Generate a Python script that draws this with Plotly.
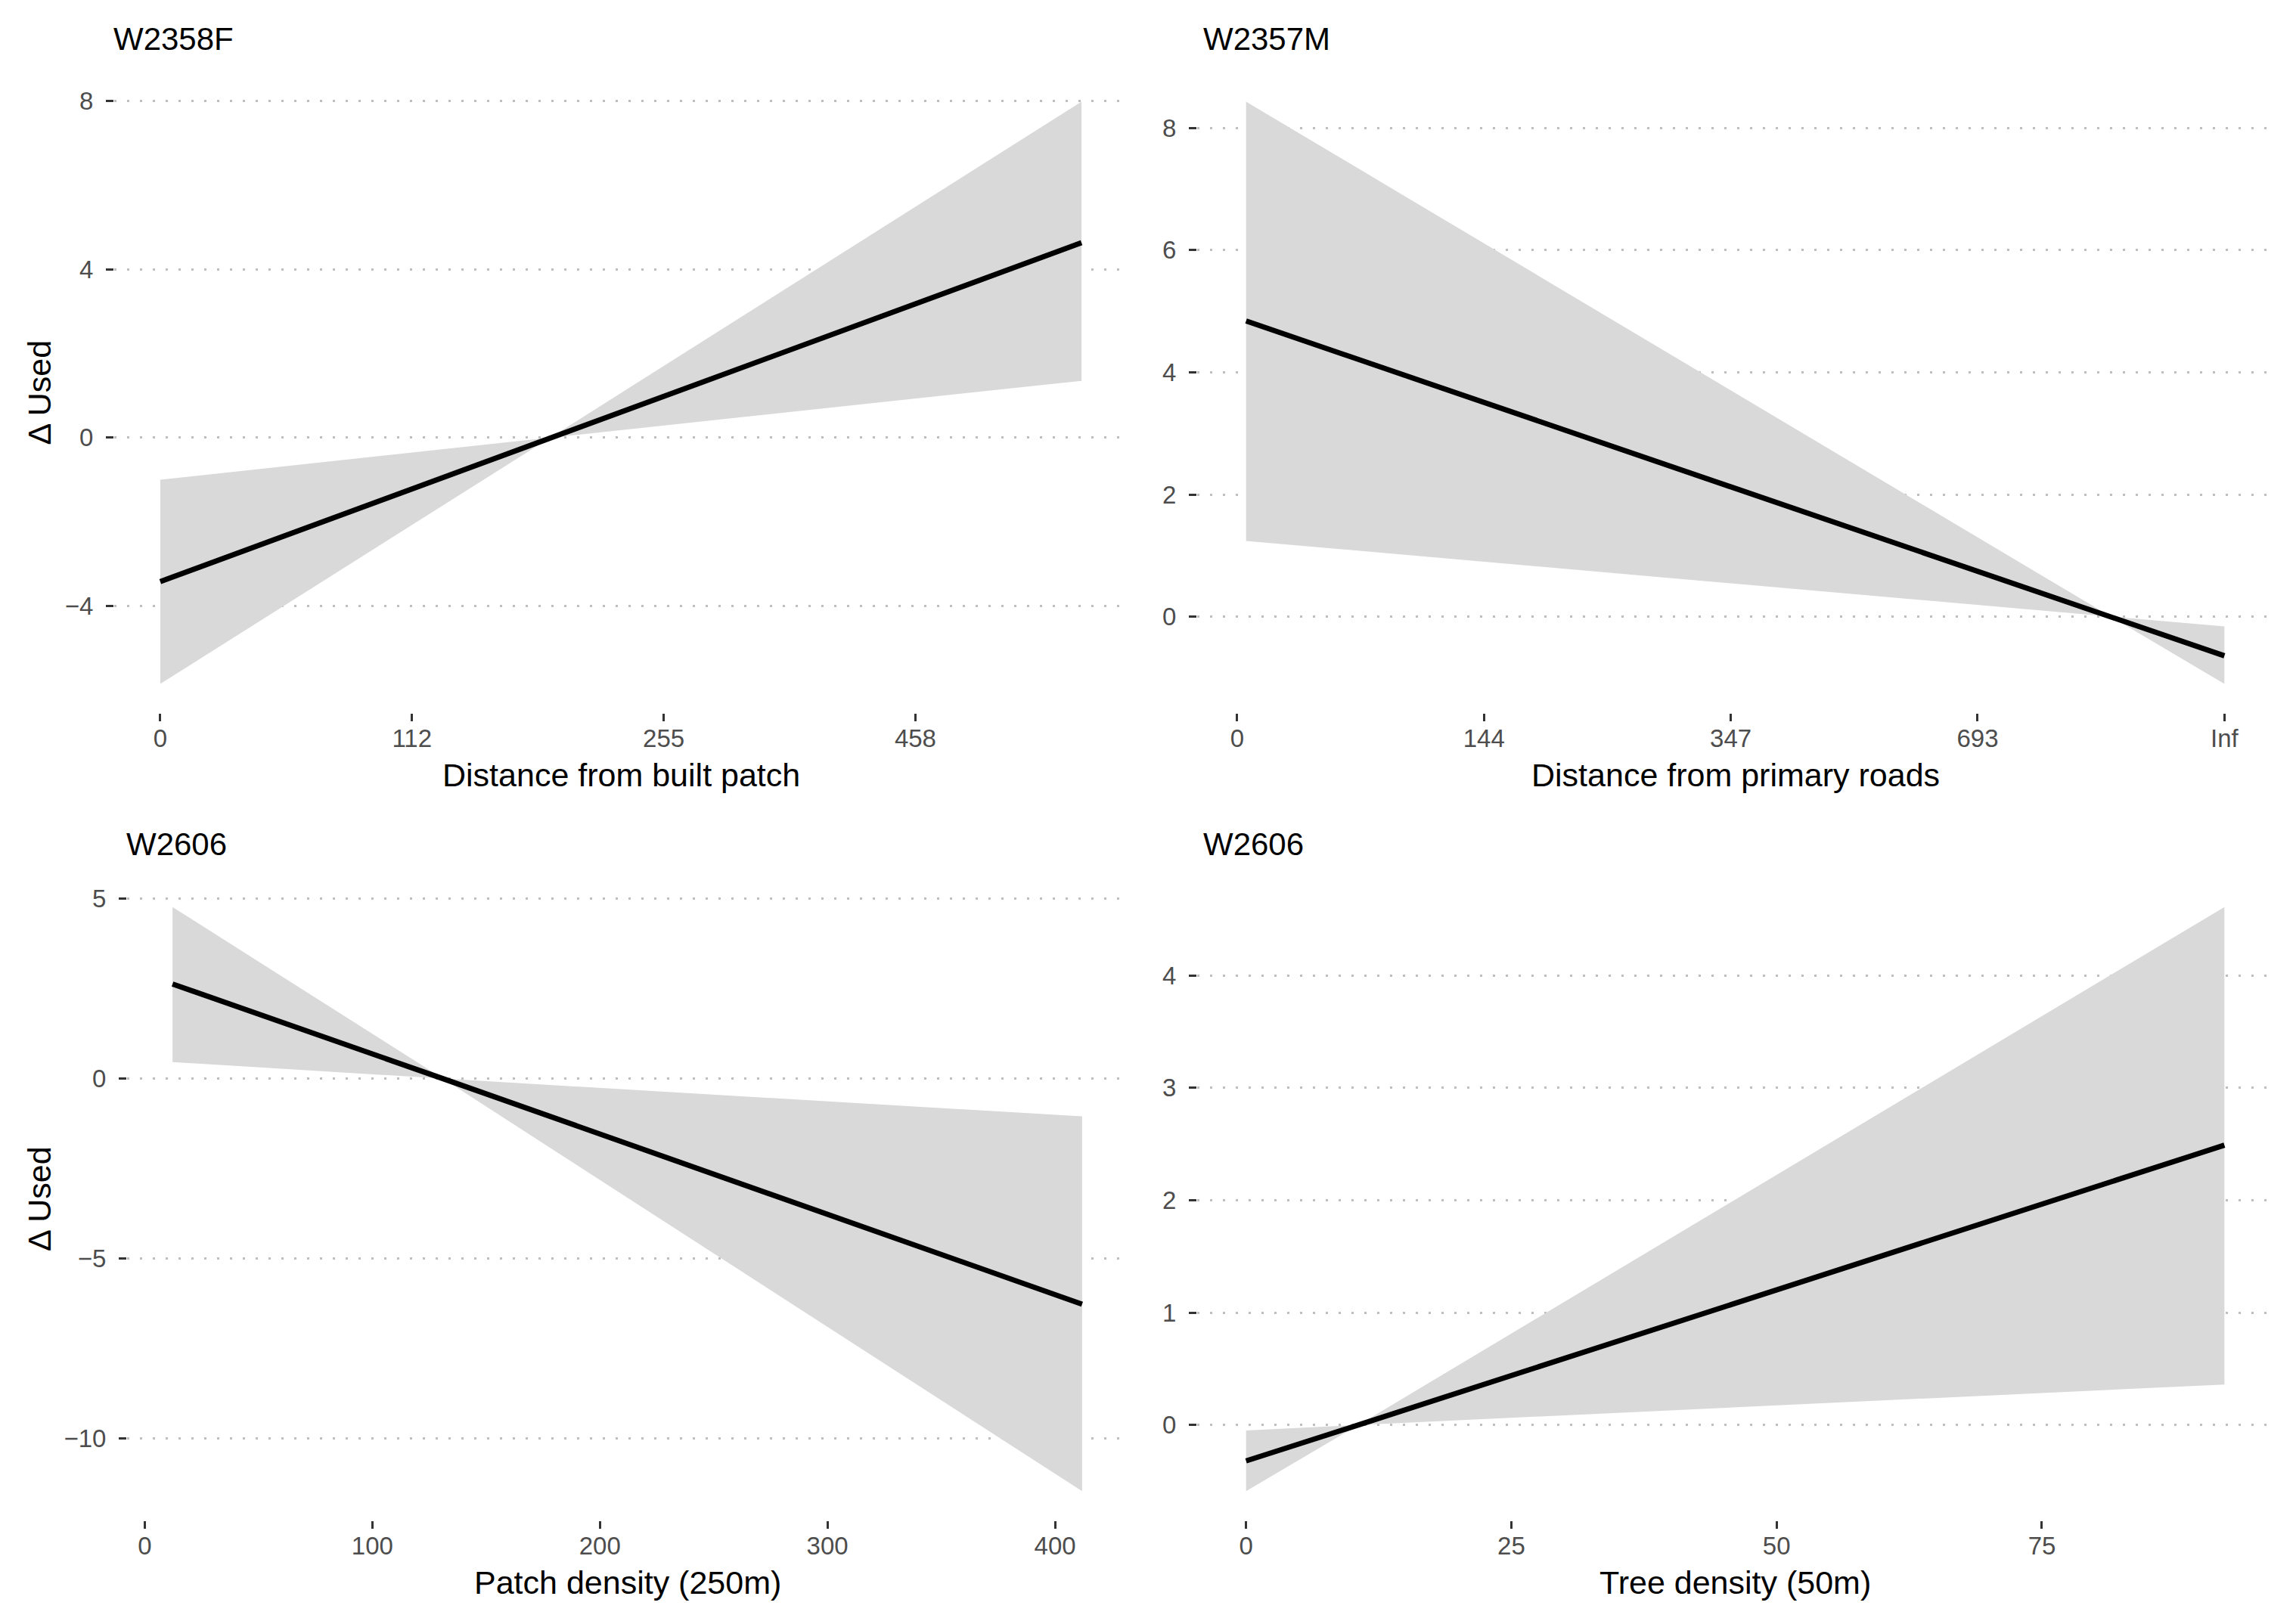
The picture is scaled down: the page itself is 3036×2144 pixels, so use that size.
import plotly.graph_objects as go

W, H = 3036, 2144

# ---------------- data ----------------
titles = ["W2358F", "W2357M", "W2606", "W2606"]
x_titles = ["Distance from built patch", "Distance from primary roads",
            "Patch density (250m)", "Tree density (50m)"]

# panel 1 (x in binned-scale units; labels below)
p1_x = [0.0, 1.55, 3.66]
p1_fit = [-3.42, 0.0, 4.63]
p1_lower = [-5.85, 0.0, 1.35]
p1_upper = [-1.00, 0.0, 7.98]
p1_xtickvals = [0, 1, 2, 3]
p1_xticktext = ["0", "112", "255", "458"]
p1_yticks = [-4, 0, 4, 8]

# panel 2
p2_x = [0.036, 3.54, 4.0]
p2_fit = [4.84, 0.0, -0.64]
p2_lower = [1.24, 0.0, -1.10]
p2_upper = [8.43, 0.0, -0.16]
p2_xtickvals = [0, 1, 2, 3, 4]
p2_xticktext = ["0", "144", "347", "693", "Inf"]
p2_yticks = [0, 2, 4, 6, 8]

# panel 3
p3_x = [12.2, 131.0, 411.9]
p3_fit = [2.63, 0.0, -6.27]
p3_lower = [0.46, 0.0, -11.47]
p3_upper = [4.77, 0.0, -1.05]
p3_xtickvals = [0, 100, 200, 300, 400]
p3_xticktext = ["0", "100", "200", "300", "400"]
p3_yticks = [-10, -5, 0, 5]

# panel 4
p4_x = [0.0, 10.6, 92.2]
p4_fit = [-0.32, 0.0, 2.49]
p4_lower = [-0.59, 0.0, 0.36]
p4_upper = [-0.05, 0.0, 4.61]
p4_xtickvals = [0, 25, 50, 75]
p4_xticktext = ["0", "25", "50", "75"]
p4_yticks = [0, 1, 2, 3, 4]

panels = [
    (p1_x, p1_fit, p1_lower, p1_upper, p1_xtickvals, p1_xticktext, p1_yticks),
    (p2_x, p2_fit, p2_lower, p2_upper, p2_xtickvals, p2_xticktext, p2_yticks),
    (p3_x, p3_fit, p3_lower, p3_upper, p3_xtickvals, p3_xticktext, p3_yticks),
    (p4_x, p4_fit, p4_lower, p4_upper, p4_xtickvals, p4_xticktext, p4_yticks),
]

# ---------------- layout geometry (pixels) ----------------
px_x = [(143, 1483), (1575, 2998), (160, 1483), (1575, 2998)]
px_y = [(88, 935), (88, 935), (1153, 2003), (1153, 2003)]
title_dx = [-3, 6, -3, 6]

FONT = "Liberation Sans, Arial, Helvetica, sans-serif"
TICK_FONT = dict(family=FONT, size=33, color="#4D4D4D")
RIBBON = "#D9D9D9"
GRID = "#BEBEBE"


def fmt(v):
    s = f"{v:g}"
    return s.replace("-", "\u2212")


def expand(vals, mult=0.05):
    lo, hi = min(vals), max(vals)
    d = (hi - lo) * mult
    return [lo - d, hi + d]


fig = go.Figure()
annotations = []

for i, (xs, fit, lo, up, xtv, xtt, ytv) in enumerate(panels):
    n = i + 1
    xa = "x" if n == 1 else f"x{n}"
    ya = "y" if n == 1 else f"y{n}"
    fig.add_trace(go.Scatter(x=xs, y=lo, mode="lines", line=dict(width=0, color=RIBBON),
                             hoverinfo="skip", showlegend=False, xaxis=xa, yaxis=ya))
    fig.add_trace(go.Scatter(x=xs, y=up, mode="lines", line=dict(width=0, color=RIBBON),
                             fill="tonexty", fillcolor=RIBBON,
                             hoverinfo="skip", showlegend=False, xaxis=xa, yaxis=ya))
    fig.add_trace(go.Scatter(x=xs, y=fit, mode="lines", line=dict(width=7, color="black"),
                             showlegend=False, xaxis=xa, yaxis=ya))

    x0, x1 = px_x[i]
    y0, y1 = px_y[i]
    xdom = [x0 / W, x1 / W]
    ydom = [1 - y1 / H, 1 - y0 / H]
    xr = expand(xs)
    yr = expand(lo + up)
    xkey = "xaxis" if n == 1 else f"xaxis{n}"
    ykey = "yaxis" if n == 1 else f"yaxis{n}"
    fig.layout[xkey] = dict(domain=xdom, range=xr, anchor=ya, showgrid=False, zeroline=False,
                            showline=False, ticks="outside", ticklen=10, tickwidth=3,
                            tickcolor="#333333", tickmode="array", tickvals=xtv, ticktext=xtt,
                            tickfont=TICK_FONT, ticklabelstandoff=-6, fixedrange=True)
    fig.layout[ykey] = dict(domain=ydom, range=yr, anchor=xa, showgrid=True, gridcolor=GRID,
                            gridwidth=3, griddash="3px,14px", zeroline=False, showline=False,
                            ticks="outside", ticklen=10, tickwidth=3, tickcolor="#333333",
                            tickmode="array", tickvals=ytv, ticktext=[fmt(v) for v in ytv],
                            tickfont=TICK_FONT, ticklabelstandoff=10, fixedrange=True)

    # panel title
    annotations.append(dict(text=titles[i], xref="paper", yref="paper", x=(x0 + title_dx[i]) / W,
                            y=1 - (y0 - 45) / H, xanchor="left", yanchor="middle",
                            showarrow=False, font=dict(family=FONT, size=42, color="black")))
    # x axis title
    annotations.append(dict(text=x_titles[i], xref="paper", yref="paper",
                            x=(x0 + x1) / 2 / W, y=1 - (y1 + 82) / H,
                            xanchor="center", yanchor="middle", showarrow=False,
                            font=dict(family=FONT, size=43, color="black")))

# y axis titles (left column only)
for i in (0, 2):
    y0, y1 = px_y[i]
    annotations.append(dict(text="\u0394 Used", xref="paper", yref="paper", x=44 / W,
                            y=1 - (y0 + y1) / 2 / H, xanchor="center", yanchor="middle",
                            textangle=-90, showarrow=False,
                            font=dict(family=FONT, size=43, color="black")))

fig.update_layout(width=W, height=H, margin=dict(l=0, r=0, t=0, b=0),
                  paper_bgcolor="white", plot_bgcolor="white",
                  annotations=annotations, showlegend=False)

fig.write_html("out.html")
